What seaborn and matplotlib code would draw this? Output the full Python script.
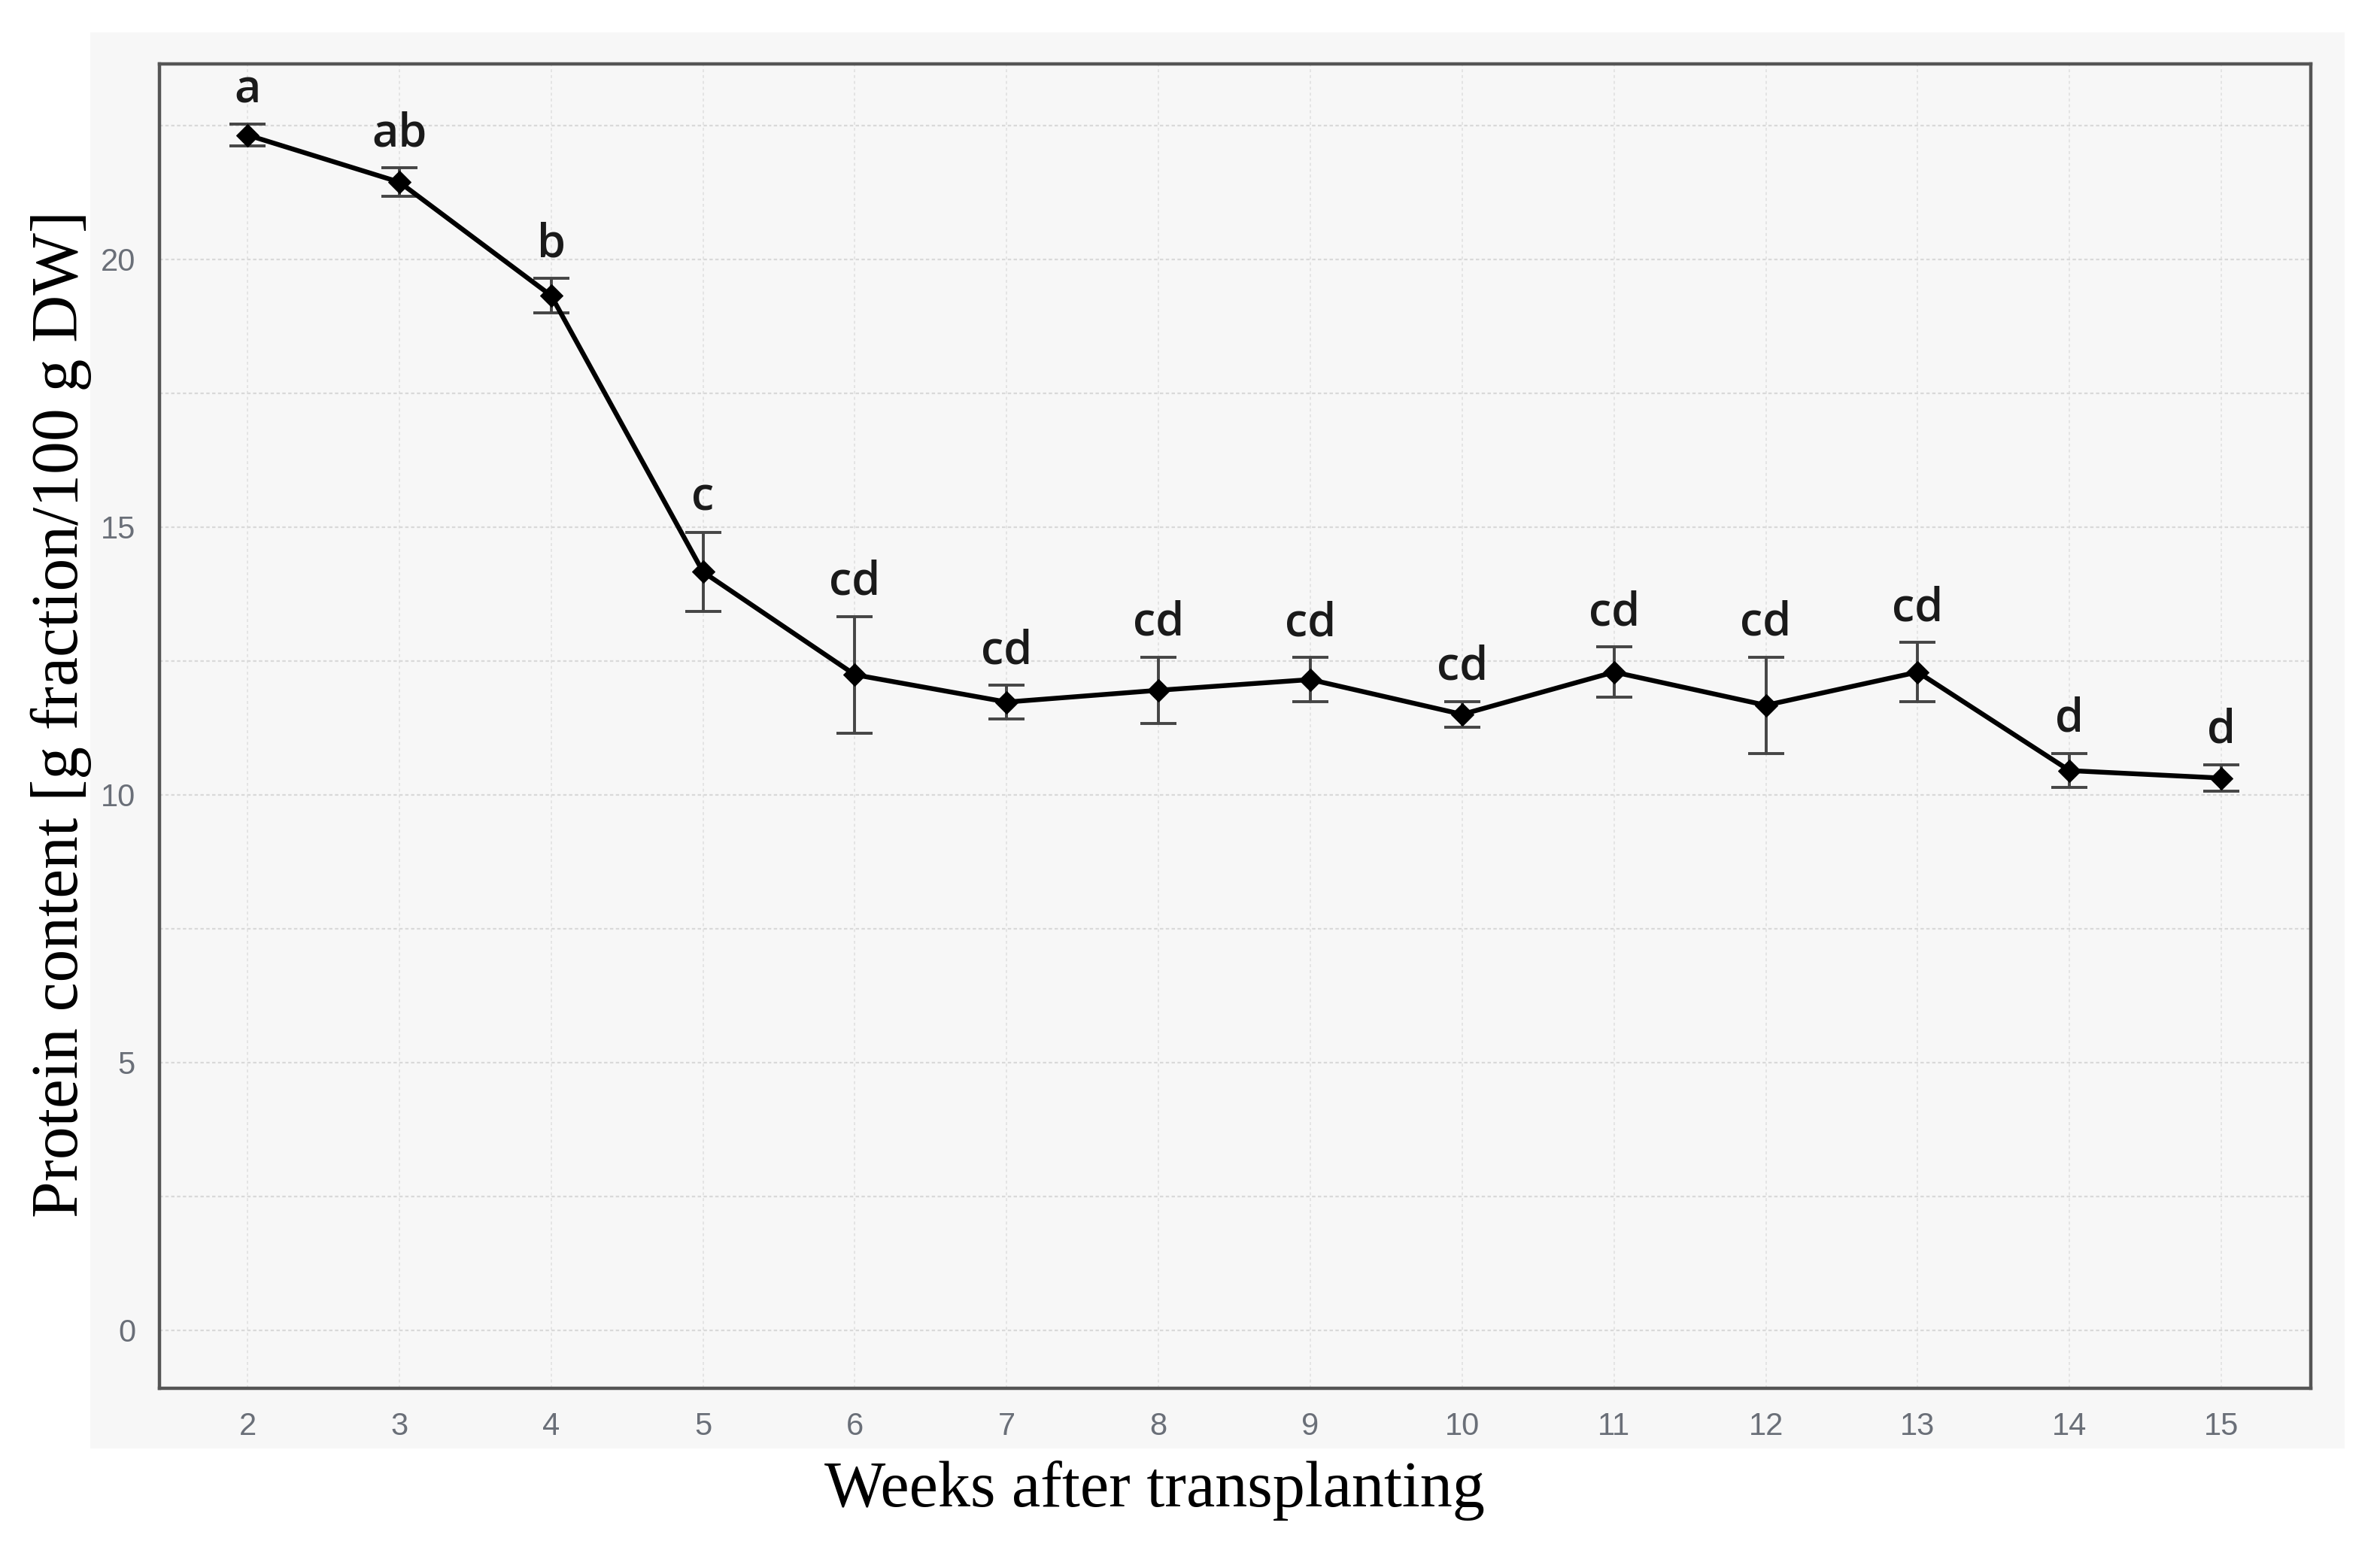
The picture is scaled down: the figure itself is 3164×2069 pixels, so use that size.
import matplotlib
matplotlib.use("Agg")
import matplotlib.pyplot as plt
import seaborn as sns
import numpy as np
import pandas as pd
from matplotlib.patches import Rectangle
from matplotlib.ticker import MultipleLocator

weeks = [2, 3, 4, 5, 6, 7, 8, 9, 10, 11, 12, 13, 14, 15]
protein = [22.32, 21.44, 19.32, 14.16, 12.24, 11.73, 11.95, 12.15, 11.50, 12.29, 11.67, 12.29, 10.45, 10.31]
errors = [0.20, 0.27, 0.32, 0.74, 1.09, 0.31, 0.62, 0.41, 0.24, 0.47, 0.90, 0.55, 0.32, 0.25]
letters = ["a", "ab", "b", "c", "cd", "cd", "cd", "cd", "cd", "cd", "cd", "cd", "d", "d"]
y_ticks = [0, 5, 10, 15, 20]

df = pd.DataFrame({"week": weeks, "protein": protein, "err": errors})

sns.set_theme(style="white")
plt.rcParams["font.family"] = ["DejaVu Sans"]

W, H = 3164, 2069
fig = plt.figure(figsize=(W / 100, H / 100), dpi=100)
fig.patch.set_facecolor("white")

# light grey panel behind axes
fig.patches.append(Rectangle((0.038, 0.069), 0.947, 0.910, transform=fig.transFigure,
                             facecolor="#f7f7f7", edgecolor="none", zorder=-5))

ax = fig.add_axes([0.067, 0.108, 0.904, 0.851])
ax.set_zorder(2)
ax.set_facecolor("#f7f7f7")

# grid
ax.yaxis.set_major_locator(plt.FixedLocator(y_ticks))
ax.yaxis.set_minor_locator(MultipleLocator(2.5))
ax.set_xticks(weeks)
ax.grid(True, axis="y", which="both", color="#d9d9d9", linestyle=(0, (2, 1.5)), linewidth=1.6, zorder=0)
ax.grid(True, axis="x", which="major", color="#e4e4e4", linestyle=(0, (2, 2)), linewidth=1.4, zorder=0)
ax.set_axisbelow(True)

ax.errorbar(df["week"], df["protein"], yerr=df["err"], fmt="none", ecolor="#454545",
            elinewidth=2.8, capsize=17, capthick=2.8, zorder=2)
sns.lineplot(data=df, x="week", y="protein", ax=ax, color="black", linewidth=4.6,
             marker="D", markersize=15, markeredgecolor="black", markerfacecolor="black", zorder=3)

for xw, yv, e, lab in zip(weeks, protein, errors, letters):
    ax.annotate(lab, (xw, yv + e), xytext=(0, 10), textcoords="offset points",
                ha="center", va="bottom", fontsize=44, color="#1a1a1a", fontweight="semibold",
                family=["Open Sans", "DejaVu Sans"])

ax.set_xlim(1.42, 15.59)
ax.set_ylim(-1.08, 23.65)

for s in ax.spines.values():
    s.set_visible(True)
    s.set_color("#555555")
    s.set_linewidth(3.2)

ax.tick_params(axis="both", which="major", direction="out", length=9, width=2.4, color="#555555",
               labelsize=30, labelcolor="#6a6f78", pad=14)
ax.tick_params(axis="both", which="minor", length=0)
for lbl in ax.get_xticklabels() + ax.get_yticklabels():
    lbl.set_family(["Liberation Sans Narrow", "Liberation Sans"])

ax.set_xlabel("")
ax.set_ylabel("")
fig.text(0.485, 0.042, "Weeks after transplanting", ha="center", va="center", fontsize=62,
         family=["Liberation Serif", "DejaVu Serif"], color="black")
fig.text(0.0256, 0.541, "Protein content [g fraction/100 g DW]", ha="center", va="center",
         rotation=90, fontsize=63, family=["Liberation Serif", "DejaVu Serif"], color="black")

fig.savefig("out.png", dpi=100, facecolor="white")
